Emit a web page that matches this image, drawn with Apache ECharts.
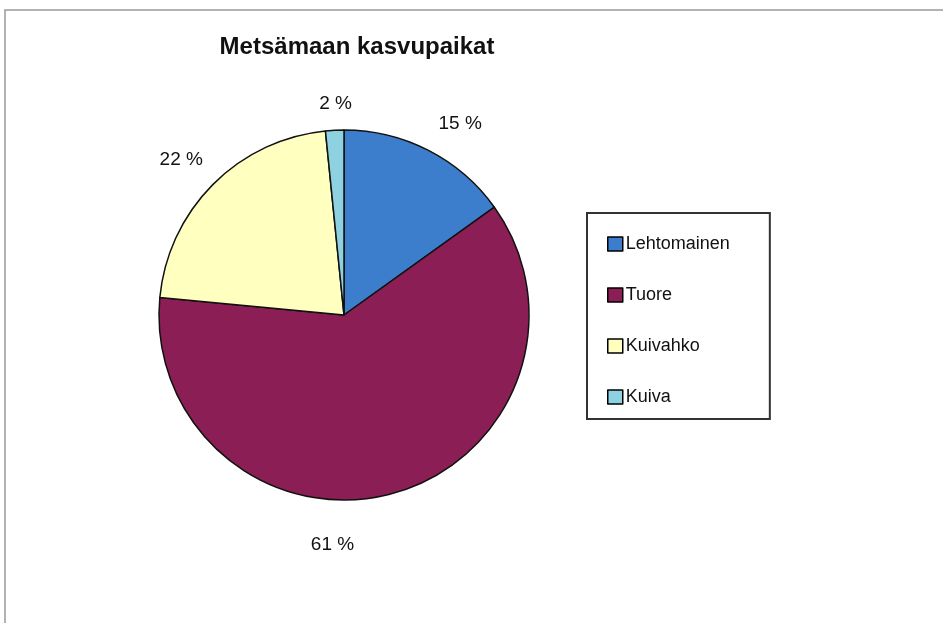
<!DOCTYPE html>
<html>
<head>
<meta charset="utf-8">
<script src="https://cdn.jsdelivr.net/npm/echarts@6/dist/echarts.min.js"></script>
<style>
  html, body { margin: 0; padding: 0; background: #fff; }
  #chart { width: 943px; height: 623px; }
</style>
</head>
<body>
<div id="chart"></div>
<script>
// kasvupaikat ja osuudet (%)
const categories = ["Lehtomainen", "Tuore", "Kuivahko", "Kuiva"];
const shares = [15.1, 61.4, 21.9, 1.6];
const colors = ["#3d7ecc", "#8b1f55", "#ffffc0", "#8ed1e0"];

// label nudges, like Excel's own placement
const labelOffsets = {
  Lehtomainen: [12, 12],
  Tuore: [-71, 10],
  Kuivahko: [-1, 5],
  Kuiva: [3, 16],
};

const chart = echarts.init(document.getElementById("chart"));

const pieData = categories.map((name, i) => ({
  name: name,
  value: shares[i],
  itemStyle: { color: colors[i] },
}));

const labelData = categories.map((name, i) => ({
  name: name,
  value: shares[i],
  label: { offset: labelOffsets[name] },
}));

const option = {
  animation: false,
  title: {
    text: "Metsämaan kasvupaikat",
    left: 352,
    top: 30,
    textAlign: "center",
    textStyle: {
      fontFamily: "Liberation Sans",
      fontWeight: "bold",
      fontSize: 24,
      color: "#111",
    },
  },
  legend: {
    orient: "vertical",
    left: 587,
    top: 213,
    data: categories,
    icon: "rect",
    itemWidth: 15,
    itemHeight: 14,
    itemGap: 33,
    padding: [22, 40, 13, 20],
    borderColor: "#333",
    borderWidth: 2,
    backgroundColor: "#fff",
    itemStyle: { borderColor: "#000", borderWidth: 1.5 },
    textStyle: {
      fontFamily: "Liberation Sans",
      fontSize: 18,
      color: "#111",
      padding: [0, 0, 0, -2],
    },
  },
  graphic: [
    {
      type: "rect",
      silent: true,
      shape: { x: 5, y: 10, width: 1000, height: 700 },
      style: { fill: "none", stroke: "#999", lineWidth: 1.5 },
    },
  ],
  series: [
    {
      name: "Metsämaan kasvupaikat",
      type: "pie",
      center: [344, 315],
      radius: 185,
      startAngle: 90,
      clockwise: true,
      label: { show: false },
      labelLine: { show: false },
      itemStyle: { borderColor: "#111", borderWidth: 1.5 },
      emphasis: { scale: false },
      data: pieData,
    },
    {
      // invisible ring that carries the percentage labels
      name: "labels",
      type: "pie",
      center: [344, 315],
      radius: [205, 245],
      startAngle: 90,
      clockwise: true,
      silent: true,
      legendHoverLink: false,
      itemStyle: { color: "transparent", borderWidth: 0 },
      emphasis: { disabled: true },
      label: {
        show: true,
        position: "inside",
        fontFamily: "Liberation Sans",
        fontSize: 19,
        color: "#111",
        formatter: (p) => Math.round(p.percent) + " %",
      },
      labelLine: { show: false },
      data: labelData,
    },
  ],
};

chart.setOption(option);
</script>
</body>
</html>
